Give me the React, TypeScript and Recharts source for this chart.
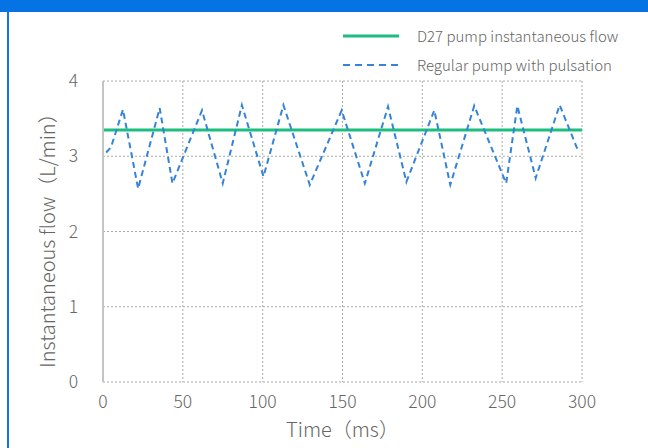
import { LineChart, Line, XAxis, YAxis, CartesianGrid, Legend } from 'recharts';

// time (ms) / flow (L/min) of the regular pump
const pulseTimes = [2, 5, 12.5, 22, 35.5, 43.5, 62, 75, 87, 100.5, 113, 129.5, 149.5, 164, 178.5, 190, 207.5, 217.5, 232.5, 252.5, 259.5, 271, 286, 298];
const pulseFlow = [3.05, 3.12, 3.62, 2.57, 3.64, 2.64, 3.61, 2.64, 3.68, 2.73, 3.68, 2.62, 3.61, 2.64, 3.66, 2.66, 3.61, 2.62, 3.67, 2.64, 3.67, 2.71, 3.68, 3.05];

const d27Times = [0, 300];
const d27Flow = [3.35, 3.35];

const xTicks = [0, 50, 100, 150, 200, 250, 300];
const yTicks = [0, 1, 2, 3, 4];

const GREEN = '#1dbd7e';
const BLUE = '#3383d9';
const TEXT = '#666';
const FONT = '"Noto Sans CJK SC", "Noto Sans", sans-serif';

const pulseData = pulseTimes.map((t, i) => ({ t, flow: pulseFlow[i] }));
const d27Data = d27Times.map((t, i) => ({ t, flow: d27Flow[i] }));

function ChartLegend() {
  const row = { display: 'flex', alignItems: 'center', height: 29 } as const;
  const label = { fontSize: 15, color: TEXT, fontFamily: FONT, fontWeight: 300, marginLeft: 18 };
  return (
    <div>
      <div style={row}>
        <svg width={56} height={6}>
          <line x1={0} y1={3} x2={56} y2={3} stroke={GREEN} strokeWidth={3} />
        </svg>
        <span style={label}>D27 pump instantaneous flow</span>
      </div>
      <div style={row}>
        <svg width={56} height={6}>
          <line x1={0} y1={3} x2={56} y2={3} stroke={BLUE} strokeWidth={2} strokeDasharray="7 5" />
        </svg>
        <span style={label}>Regular pump with pulsation</span>
      </div>
    </div>
  );
}

export default function App() {
  return (
    <div style={{ position: 'absolute', top: 0, left: 0, width: 648, height: 448, background: '#fff', overflow: 'hidden' }}>
      <div style={{ position: 'absolute', top: 0, left: 0, width: 648, height: 12, background: '#0573e3' }} />
      <div style={{ position: 'absolute', top: 12, left: 7, width: 2, height: 436, background: '#0a78e6' }} />
      <LineChart
        width={648}
        height={448}
        margin={{ top: 81, right: 66, bottom: 36, left: 20 }}
        style={{ position: 'absolute', top: 0, left: 0, fontFamily: FONT }}
      >
        <CartesianGrid stroke="#aaa" strokeDasharray="2 2" />
        <XAxis
          dataKey="t"
          type="number"
          domain={[0, 300]}
          ticks={xTicks}
          axisLine={false}
          tickLine={false}
          tickMargin={8}
          height={30}
          tick={{ fill: TEXT, fontSize: 17.5, fontWeight: 300 }}
          label={{ value: 'Time（ms）', position: 'bottom', offset: 11, fill: TEXT, fontSize: 20, fontWeight: 300 }}
          allowDuplicatedCategory={false}
        />
        <YAxis
          type="number"
          domain={[0, 4]}
          ticks={yTicks}
          width={83}
          axisLine={{ stroke: '#c4c4c4', strokeWidth: 2 }}
          tickLine={false}
          tickSize={0}
          tickMargin={25}
          tick={{ fill: TEXT, fontSize: 17.5, fontWeight: 300 }}
          label={{ value: 'Instantaneous flow（L/min）', angle: -90, position: 'center', dx: -14, dy: 4, fill: TEXT, fontSize: 20, fontWeight: 300 }}
        />
        <Legend
          verticalAlign="middle"
          content={<ChartLegend />}
          wrapperStyle={{ top: 21, left: 343, width: 300 }}
        />
        <Line
          data={d27Data}
          dataKey="flow"
          name="D27 pump instantaneous flow"
          stroke={GREEN}
          strokeWidth={3}
          dot={false}
          isAnimationActive={false}
        />
        <Line
          data={pulseData}
          dataKey="flow"
          name="Regular pump with pulsation"
          stroke={BLUE}
          strokeWidth={2}
          strokeDasharray="6 4"
          dot={false}
          isAnimationActive={false}
        />
      </LineChart>
    </div>
  );
}
